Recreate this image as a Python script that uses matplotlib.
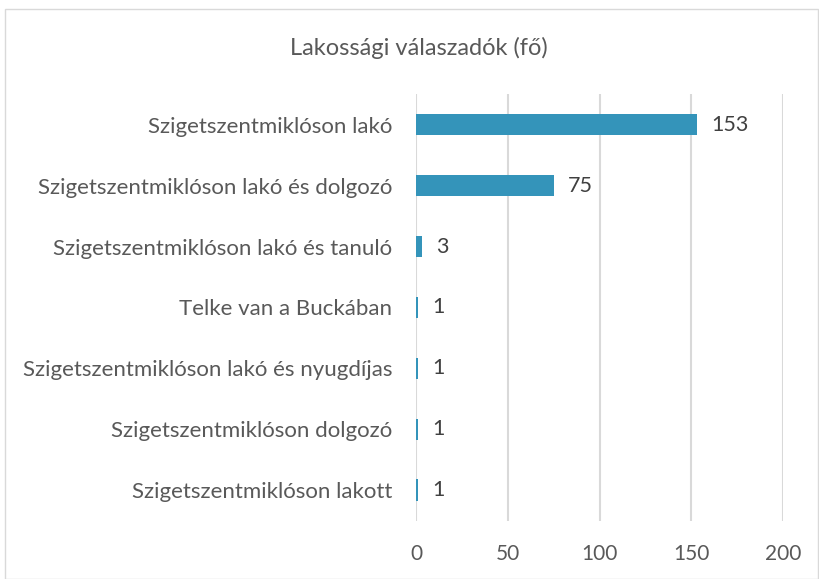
import matplotlib.pyplot as plt
from matplotlib.patches import Rectangle

kategoriak = [
    "Szigetszentmiklóson lakó",
    "Szigetszentmiklóson lakó és dolgozó",
    "Szigetszentmiklóson lakó és tanuló",
    "Telke van a Buckában",
    "Szigetszentmiklóson lakó és nyugdíjas",
    "Szigetszentmiklóson dolgozó",
    "Szigetszentmiklóson lakott",
]
ertekek = [153, 75, 3, 1, 1, 1, 1]
x_ticks = [0, 50, 100, 150, 200]

szurke = "#595959"
plt.rcParams["font.family"] = ["Lato", "DejaVu Sans"]

fig = plt.figure(figsize=(8.19, 5.79), dpi=100)
ax = fig.add_axes([0.508, 0.101, 0.448, 0.736])

y = list(range(len(kategoriak)))
ax.barh(y, ertekek, height=0.35, color="#3494BA", zorder=3)
for yi, v in zip(y, ertekek):
    ax.text(v + 8, yi, str(v), va="center", ha="left", fontsize=15.5, color="#404040")

ax.set_yticks(y)
ax.set_yticklabels(kategoriak, fontsize=16, color=szurke)
ax.set_ylim(len(kategoriak) - 0.5, -0.5)
ax.set_xlim(0, 200)
ax.set_xticks(x_ticks)
ax.set_xticklabels([str(t) for t in x_ticks], fontsize=15, color=szurke)
ax.tick_params(axis="both", length=0)
ax.tick_params(axis="x", pad=17)
ax.tick_params(axis="y", pad=17)
ax.xaxis.grid(True, color="#D9D9D9", linewidth=1.5, zorder=0)
for s in ax.spines.values():
    s.set_visible(False)

fig.text(0.512, 0.918, "Lakossági válaszadók (fő)", ha="center", va="center",
         fontsize=17, color=szurke)

fig.patches.append(Rectangle((5 / 819, 0.0), 813 / 819, 1 - 9 / 579,
                             transform=fig.transFigure, fill=False,
                             edgecolor="#D9D9D9", linewidth=1))

fig.savefig("out.png", dpi=100)
